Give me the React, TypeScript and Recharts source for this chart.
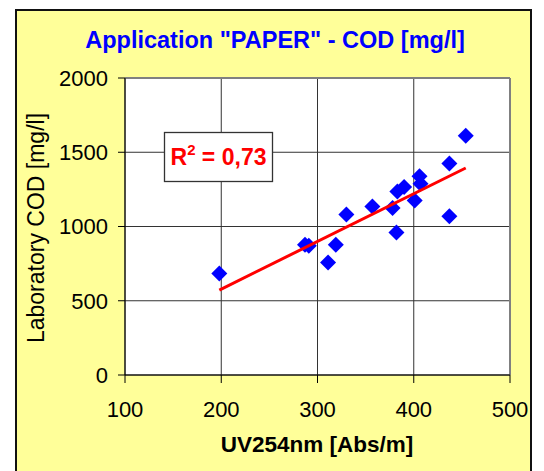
import React from 'react';
import { ScatterChart, Scatter, XAxis, YAxis, CartesianGrid, ReferenceLine } from 'recharts';

const uvAbs = [198, 287, 291, 311, 319, 330, 357, 378, 382, 383, 390, 401, 406, 407, 437, 437, 454];
const codMgL = [683, 877, 870, 757, 877, 1080, 1134, 1125, 960, 1236, 1266, 1175, 1338, 1288, 1424, 1069, 1611];
const trendX = [198, 454];
const trendY = [572, 1394];
const xTicks = [100, 200, 300, 400, 500];
const yTicks = [0, 500, 1000, 1500, 2000];
const titleText = 'Application "PAPER" - COD [mg/l]';
const xTitle = 'UV254nm [Abs/m]';
const yTitle = 'Laboratory COD [mg/l]';
const r2Value = '0,73';

const points = uvAbs.map((x, i) => ({ x, y: codMgL[i] }));
const trend = trendX.map((x, i) => ({ x, y: trendY[i] }));

const FONT = '"Liberation Sans", Arial, Helvetica, sans-serif';

const Diamond = (props: any) => {
  const { cx, cy } = props;
  const r = 8;
  return (
    <polygon
      points={`${cx},${cy - r} ${cx + r},${cy} ${cx},${cy + r} ${cx - r},${cy}`}
      fill="#0000FF"
    />
  );
};

const NoShape = () => <g />;

export default function App() {
  return (
    <div style={{ position: 'absolute', left: 0, top: 0, width: 544, height: 471, overflow: 'hidden', background: '#fff' }}>
      <div
        style={{
          position: 'absolute',
          left: 15,
          top: 9,
          width: 517,
          height: 490,
          boxSizing: 'border-box',
          border: '2px solid #111',
          background: '#FFFF99',
        }}
      />
      <div style={{ position: 'absolute', left: 0, top: 0 }}>
        <ScatterChart width={544} height={471} margin={{ top: 78, right: 34, bottom: 16, left: 0 }}>
          <CartesianGrid fill="#fff" stroke="#333" strokeWidth={1} />
          <ReferenceLine y={2000} stroke="#808080" strokeWidth={2} />
          <ReferenceLine x={500} stroke="#808080" strokeWidth={2} />
          <XAxis
            type="number"
            dataKey="x"
            domain={[100, 500]}
            ticks={xTicks}
            interval={0}
            height={80}
            tickSize={8}
            tickMargin={18}
            axisLine={{ stroke: '#000', strokeWidth: 1 }}
            tickLine={{ stroke: '#000', strokeWidth: 1 }}
            tick={{ fill: '#000', fontSize: 22, fontFamily: FONT }}
          />
          <YAxis
            type="number"
            dataKey="y"
            domain={[0, 2000]}
            ticks={yTicks}
            interval={0}
            width={125}
            tickSize={7}
            tickMargin={10}
            axisLine={{ stroke: '#000', strokeWidth: 1 }}
            tickLine={{ stroke: '#000', strokeWidth: 1 }}
            tick={{ fill: '#000', fontSize: 22, fontFamily: FONT }}
          />
          <Scatter data={points} shape={<Diamond />} isAnimationActive={false} />
          <Scatter
            data={trend}
            line={{ stroke: '#FF0000', strokeWidth: 3 }}
            lineType="joint"
            shape={<NoShape />}
            isAnimationActive={false}
          />
        </ScatterChart>
      </div>
      <svg width={544} height={471} style={{ position: 'absolute', left: 0, top: 0, pointerEvents: 'none' }}>
        <text x={275} y={48} textAnchor="middle" fontSize={23.5} fontWeight="bold" fill="#0000FF" fontFamily={FONT}>
          {titleText}
        </text>
        <text x={317} y={452} textAnchor="middle" fontSize={22.5} fontWeight="bold" fill="#000" fontFamily={FONT}>
          {xTitle}
        </text>
        <text
          x={44}
          y={228}
          textAnchor="middle"
          fontSize={23}
          fill="#000"
          fontFamily={FONT}
          transform="rotate(-90 44 228)"
        >
          {yTitle}
        </text>
        <rect x={164.5} y={132.5} width={108} height={49} fill="#fff" stroke="#333" strokeWidth={1.3} />
        <text x={218.5} y={165} textAnchor="middle" fontSize={23} fontWeight="bold" fill="#FF0000" fontFamily={FONT}>
          R<tspan fontSize={15} dy={-10}>2</tspan>
          <tspan dy={10}> = {r2Value}</tspan>
        </text>
      </svg>
    </div>
  );
}
